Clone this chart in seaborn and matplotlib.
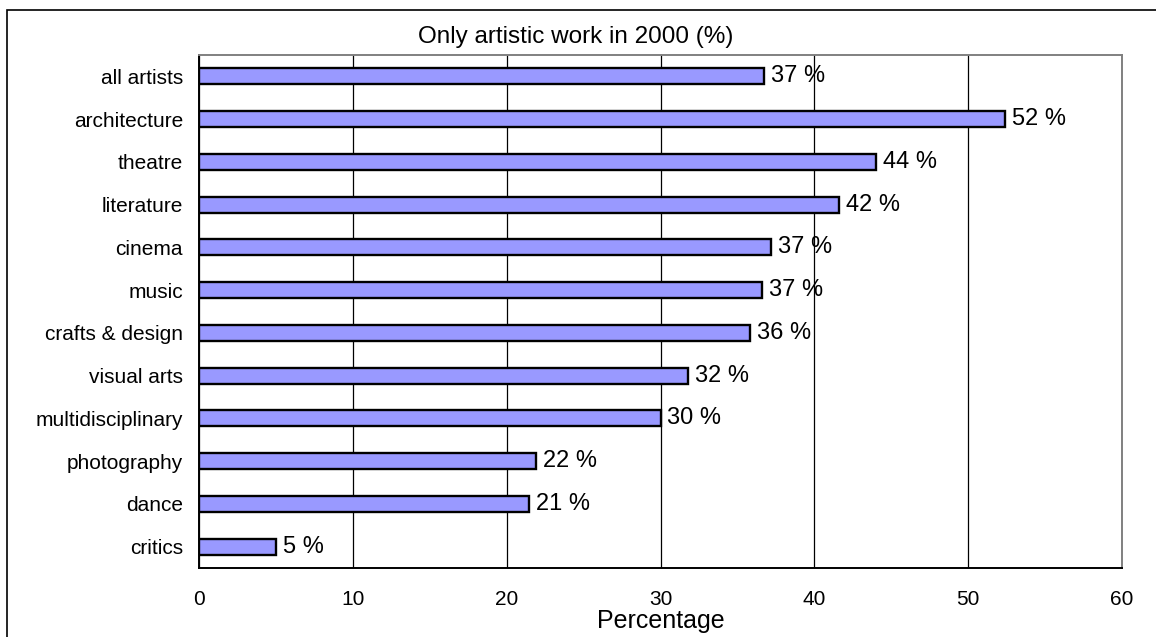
import matplotlib
matplotlib.use("Agg")
import matplotlib.pyplot as plt
from matplotlib.patches import Rectangle
from matplotlib.ticker import FixedLocator
import seaborn as sns
import pandas as pd

# Share of artists doing only artistic work in 2000, by field
categories = [
    "all artists", "architecture", "theatre", "literature", "cinema", "music",
    "crafts & design", "visual arts", "multidisciplinary", "photography",
    "dance", "critics",
]
values = [36.7, 52.4, 44.0, 41.6, 37.2, 36.6, 35.8, 31.8, 30.0, 21.9, 21.45, 5.0]
x_ticks = [0, 10, 20, 30, 40, 50, 60]

title = "Only artistic work in 2000 (%)"
x_label = "Percentage"

df = pd.DataFrame({"field": categories, "share": values})

sns.set_theme(style="white")
plt.rcParams["font.family"] = ["Liberation Sans", "DejaVu Sans"]
plt.rcParams["text.color"] = "black"
plt.rcParams["axes.labelcolor"] = "black"
plt.rcParams["xtick.color"] = "black"
plt.rcParams["ytick.color"] = "black"

fig = plt.figure(figsize=(11.56, 6.37), dpi=100)
ax = fig.add_axes([199 / 1156, 1 - 568 / 637, (1122 - 199) / 1156, (568 - 55) / 637])

sns.barplot(
    data=df, x="share", y="field", orient="h", ax=ax,
    color="#9999FF", saturation=1, edgecolor="black", linewidth=1.7,
    width=0.38, zorder=3,
)

ax.set_xlim(0, 60)
ax.set_ylim(len(categories) - 0.5, -0.5)
ax.set_xticks(x_ticks)
ax.set_xticklabels([str(t) for t in x_ticks], fontsize=15)
ax.tick_params(axis="x", direction="inout", length=10, width=1, color="black", pad=11)

# category labels without ticks; ticks drawn between categories
ax.tick_params(axis="y", which="major", length=0, pad=11.5, labelsize=15)
ax.yaxis.set_minor_locator(FixedLocator([i - 0.5 for i in range(len(categories) + 1)]))
ax.tick_params(axis="y", which="minor", direction="out", length=7, width=1, color="black")

ax.xaxis.grid(True, color="black", linewidth=0.9, zorder=0)
ax.yaxis.grid(False)
ax.set_axisbelow(True)

for side in ["left", "bottom"]:
    ax.spines[side].set_color("black")
    ax.spines[side].set_linewidth(1.4)
for side in ["top", "right"]:
    ax.spines[side].set_color("#808080")
    ax.spines[side].set_linewidth(1.4)
    ax.spines[side].set_visible(True)

ax.set_ylabel("")
ax.set_xlabel(x_label, fontsize=18)
ax.xaxis.label.set_verticalalignment("center")
ax.xaxis.set_label_coords(0.5, -0.104)

ax.bar_label(ax.containers[0], labels=[f"{v:.0f} %" for v in values],
             padding=5, fontsize=17, color="black")

fig.text(576 / 1156, 1 - 37 / 637, title, ha="center", va="center", fontsize=17.5)

# outer chart frame, running off the right and bottom edges
fig.patches.append(Rectangle((7 / 1156, -0.2), 1.2, 1.2 - 10 / 637,
                             transform=fig.transFigure, fill=False,
                             edgecolor="black", linewidth=1.2, clip_on=False))

fig.savefig("out.png", dpi=100)
